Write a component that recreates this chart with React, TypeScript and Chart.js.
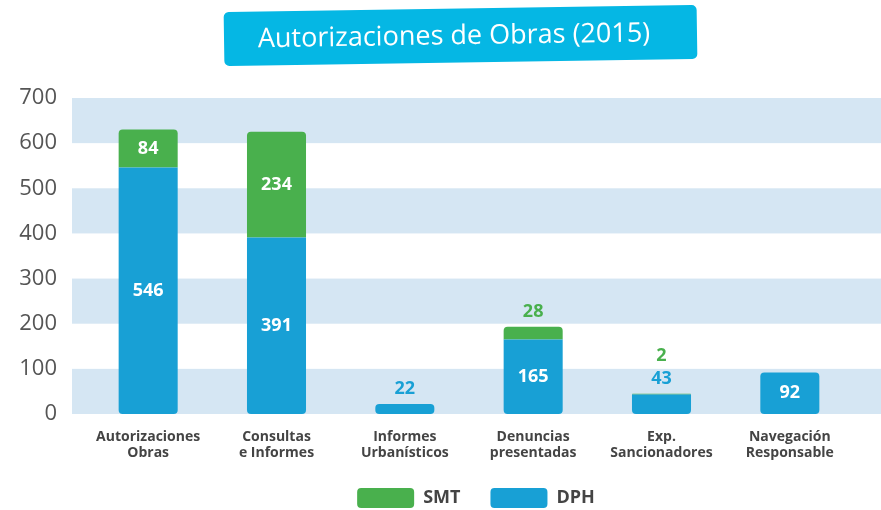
import React, { useEffect, useRef } from 'react';
import { Chart, registerables } from 'chart.js';

Chart.register(...registerables);

const titleText = 'Autorizaciones de Obras (2015)';
const categories: string[][] = [
  ['Autorizaciones', 'Obras'],
  ['Consultas', 'e Informes'],
  ['Informes', 'Urbanísticos'],
  ['Denuncias', 'presentadas'],
  ['Exp.', 'Sancionadores'],
  ['Navegación', 'Responsable'],
];
const dphValues: (number | null)[] = [546, 391, 22, 165, 43, 92];
const smtValues: (number | null)[] = [84, 234, null, 28, 2, null];
const seriesNames = { dph: 'DPH', smt: 'SMT' };
const yMin = 0;
const yMax = 700;
const yStep = 100;
const bandRanges: [number, number][] = [
  [0, 100],
  [200, 300],
  [400, 500],
  [600, 700],
];

const BLUE = '#18a0d5';
const GREEN = '#49b04d';
const BAND = '#d5e6f3';
const TITLE_BG = '#05b7e4';
const FONT = "'Open Sans', 'DejaVu Sans', sans-serif";

const bandsPlugin = {
  id: 'bands',
  beforeDatasetsDraw(chart: any) {
    const { ctx, chartArea, scales } = chart;
    const y = scales.y;
    ctx.save();
    ctx.fillStyle = BAND;
    bandRanges.forEach(([a, b]) => {
      const y1 = y.getPixelForValue(b);
      const y0 = y.getPixelForValue(a);
      ctx.fillRect(chartArea.left - 12, y1, chart.width - (chartArea.left - 12), y0 - y1);
    });
    ctx.restore();
  },
};

const legendShiftPlugin = {
  id: 'legendShift',
  afterLayout(chart: any) {
    const lg = chart.legend;
    if (lg) {
      lg.left += 7;
      lg.right += 7;
      lg.top -= 6;
      lg.bottom -= 6;
    }
  },
};

const titlePlugin = {
  id: 'boxTitle',
  afterDraw(chart: any) {
    const { ctx } = chart;
    ctx.save();
    ctx.translate(460, 35.5);
    ctx.rotate((-0.85 * Math.PI) / 180);
    ctx.fillStyle = TITLE_BG;
    ctx.beginPath();
    (ctx as any).roundRect(-236, -27, 473, 54, 5);
    ctx.fill();
    ctx.fillStyle = '#ffffff';
    ctx.font = `500 27px ${FONT}`;
    ctx.textAlign = 'center';
    ctx.textBaseline = 'middle';
    ctx.fillText(titleText, -6, 1);
    ctx.restore();
  },
};

const labelsPlugin = {
  id: 'barLabels',
  afterDatasetsDraw(chart: any) {
    const { ctx } = chart;
    ctx.save();
    ctx.font = `bold 18px ${FONT}`;
    ctx.textAlign = 'center';
    ctx.textBaseline = 'middle';
    const n = chart.data.labels.length;
    for (let i = 0; i < n; i++) {
      let top = Infinity;
      let x = 0;
      const outside: { text: string; color: string }[] = [];
      chart.data.datasets.forEach((ds: any, di: number) => {
        const v = ds.data[i];
        if (v == null) return;
        const el = chart.getDatasetMeta(di).data[i];
        x = el.x;
        top = Math.min(top, el.y);
        const h = Math.abs(el.base - el.y);
        if (h >= 24) {
          ctx.fillStyle = '#ffffff';
          ctx.fillText(String(v), el.x, (el.y + el.base) / 2);
        } else {
          outside.push({ text: String(v), color: ds.backgroundColor });
        }
      });
      outside.forEach((o, k) => {
        ctx.fillStyle = o.color;
        ctx.fillText(o.text, x, top - 15 - 23 * k);
      });
    }
    ctx.restore();
  },
};

export default function App() {
  const ref = useRef<HTMLCanvasElement | null>(null);
  useEffect(() => {
    document.body.style.margin = '0';
    const canvas = ref.current;
    if (!canvas) return;
    const chart = new Chart(canvas, {
      type: 'bar',
      data: {
        labels: categories as any,
        datasets: [
          {
            label: seriesNames.dph,
            data: dphValues,
            backgroundColor: BLUE,
            borderSkipped: false,
            borderRadius: (c: any) => {
              const hasTop = smtValues[c.dataIndex] != null;
              return {
                topLeft: hasTop ? 0 : 4,
                topRight: hasTop ? 0 : 4,
                bottomLeft: 4,
                bottomRight: 4,
              };
            },
            barPercentage: 0.46,
            categoryPercentage: 1,
          },
          {
            label: seriesNames.smt,
            data: smtValues,
            backgroundColor: GREEN,
            borderSkipped: false,
            borderRadius: { topLeft: 4, topRight: 4, bottomLeft: 0, bottomRight: 0 },
            barPercentage: 0.46,
            categoryPercentage: 1,
          },
        ] as any,
      },
      options: {
        responsive: false,
        animation: false,
        layout: { padding: { top: 98, right: 27, left: 0, bottom: -14 } },
        plugins: {
          legend: {
            position: 'bottom',
            fullSize: false,
            reverse: true,
            labels: {
              boxWidth: 57,
              boxHeight: 20,
              useBorderRadius: true,
              borderRadius: 4,
              padding: 30,
              color: '#444444',
              font: { family: FONT, size: 18, weight: 'bold' },
            },
          },
          tooltip: { enabled: false },
        },
        scales: {
          x: {
            stacked: true,
            grid: { display: false, drawTicks: false },
            border: { display: false },
            ticks: {
              padding: 15,
              color: '#444444',
              maxRotation: 0,
              autoSkip: false,
              font: { family: FONT, size: 14, weight: 'bold', lineHeight: 1.15 },
            },
            afterFit: (s: any) => {
              s.height = 50;
            },
          },
          y: {
            stacked: true,
            min: yMin,
            max: yMax,
            grid: { display: false, drawTicks: false },
            border: { display: false },
            ticks: {
              stepSize: yStep,
              padding: 27,
              color: '#555555',
              font: { family: FONT, size: 22 },
            },
            afterFit: (s: any) => {
              s.width = 84;
            },
          },
        },
      } as any,
      plugins: [bandsPlugin, legendShiftPlugin, labelsPlugin, titlePlugin],
    });
    return () => chart.destroy();
  }, []);
  return (
    <div style={{ position: 'fixed', left: 0, top: 0, width: 881, height: 510 }}>
      <canvas ref={ref} width={881} height={510} style={{ display: 'block' }} />
    </div>
  );
}
